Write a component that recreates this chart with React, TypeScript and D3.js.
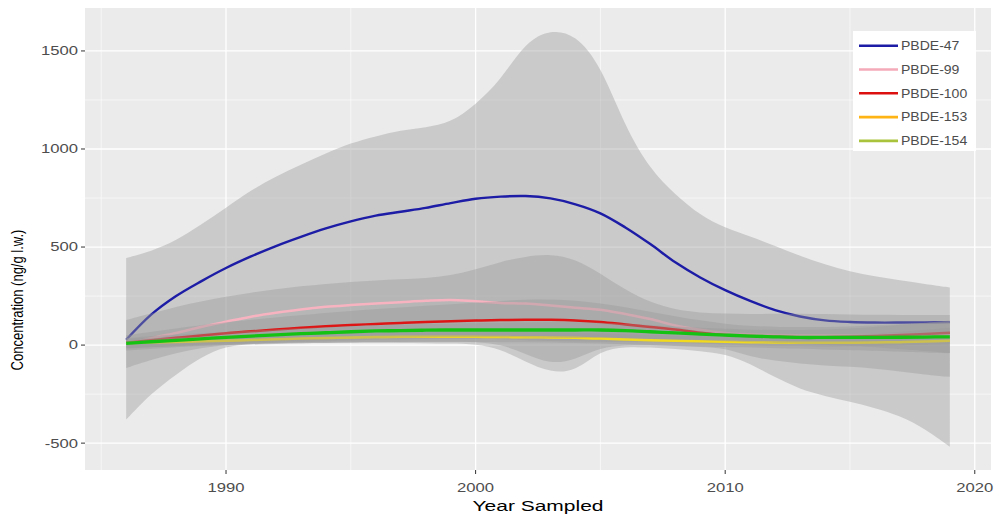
import React from 'react';
import * as d3 from 'd3';

// ---------- data ----------
const years = [1986, 1987, 1988, 1989, 1990, 1991, 1992, 1993, 1994, 1995, 1996, 1997, 1998, 1999, 2000, 2001, 2002,
  2003, 2004, 2005, 2006, 2007, 2008, 2009, 2010, 2011, 2012, 2013, 2014, 2015, 2016, 2017, 2018, 2019];

const pbde47 = [27, 155, 250, 325, 393, 452, 505, 552, 595, 631, 660, 680, 700, 724, 746, 757, 760,
  748, 718, 672, 600, 515, 422, 345, 280, 225, 178, 146, 126, 118, 115, 115, 116, 117];
const pbde47Upper = [444, 478, 532, 615, 699, 790, 860, 920, 978, 1031, 1065, 1095, 1110, 1133, 1226, 1350, 1545,
  1610, 1585, 1430, 1110, 895, 767, 662, 597, 555, 505, 455, 410, 375, 350, 330, 312, 294];
const pbde47Lower = [-380, -246, -150, -60, -5, 5, 9, 10, 11, 12, 12, 11, 10, 8, 5, -20, -85,
  -140, -135, -26, -8, -12, -20, -30, -45, -95, -165, -225, -260, -289, -320, -360, -425, -519];

const pbde99 = [5, 35, 62, 92, 119, 145, 165, 182, 195, 204, 212, 219, 226, 230, 223, 215, 212,
  202, 190, 180, 158, 133, 100, 78, 62, 55, 52, 50, 50, 50, 52, 54, 56, 58];
const pbde99Upper = [128, 160, 195, 222, 247, 268, 285, 300, 312, 323, 330, 336, 340, 355, 385, 425, 452,
  465, 440, 366, 281, 218, 180, 165, 160, 158, 160, 160, 158, 156, 155, 154, 153, 153];
const pbde99Lower = [-117, -75, -40, -15, 0, 8, 12, 13, 14, 15, 16, 16, 17, 17, 17, 5, -45,
  -98, -75, -12, 0, 0, -5, -10, -15, -60, -80, -95, -105, -110, -120, -135, -150, -162];

const pbde100 = [12, 25, 37, 49, 60, 70, 79, 88, 96, 102, 108, 113, 118, 122, 125, 128, 129,
  129, 126, 118, 105, 92, 79, 63, 52, 46, 42, 40, 40, 42, 46, 51, 57, 63];
const pbde153 = [9, 13, 16, 19, 22, 26, 30, 33, 36, 39, 41, 42, 42, 42, 42, 41, 40,
  39, 37, 33, 29, 25, 22, 19, 17, 15, 13, 12, 12, 12, 13, 15, 18, 22];
const pbde154 = [9, 17, 24, 32, 39, 46, 52, 58, 63, 68, 72, 74, 76, 77, 77, 77, 77,
  77, 77, 77, 74, 68, 62, 56, 51, 46, 42, 39, 39, 39, 39, 40, 41, 42];

const bandYears = [1986, 1988, 1990, 1995, 2000, 2002, 2004, 2006, 2008, 2010, 2012, 2015, 2019];
const pbde100Upper = [50, 85, 118, 178, 215, 235, 232, 195, 145, 105, 90, 92, 120];
const pbde100Lower = [-28, -10, 2, 26, 36, 24, 18, 16, 14, 2, -6, -8, 5];
const pbde153Upper = [32, 38, 45, 62, 68, 66, 62, 55, 48, 42, 40, 48, 88];
const pbde153Lower = [-15, -6, 0, 16, 16, 14, 12, 4, -4, -10, -15, -25, -42];
const pbde154Upper = [36, 55, 68, 100, 112, 115, 118, 110, 95, 82, 75, 78, 125];
const pbde154Lower = [-18, -5, 10, 36, 42, 38, 36, 38, 28, 20, 10, 0, -40];

const seriesNames = ['PBDE-47', 'PBDE-99', 'PBDE-100', 'PBDE-153', 'PBDE-154'];
const lineColors = ['#1c1ca6', '#f7b3c0', '#dd1515', '#f2da1e', '#14c214'];
const legendColors = ['#1c1ca6', '#f4aab8', '#dd1010', '#ffb416', '#a9c43c'];
const lineWidths = [2.4, 2.5, 2.5, 2.5, 3.3];

const xMajorTicks = [1990, 2000, 2010, 2020];
const xMinorTicks = [1985, 1995, 2005, 2015];
const yMajorTicks = [-500, 0, 500, 1000, 1500];
const yMinorTicks = [-250, 250, 750, 1250];

const xTitle = 'Year Sampled';
const yTitle = 'Concentration (ng/g l.w.)';

// ---------- layout ----------
const W = 997;
const H = 516;
const panel = { left: 85, right: 991, top: 8, bottom: 470 };
const FONT = "'Liberation Sans', Arial, Helvetica, sans-serif";

type Pt = { x: number; y: number };
const zip = (xs: number[], ys: number[]): Pt[] => xs.map((x, i) => ({ x, y: ys[i] }));
const zipBand = (xs: number[], lo: number[], hi: number[]) => xs.map((x, i) => ({ x, lo: lo[i], hi: hi[i] }));

export default function App() {
  const x = d3.scaleLinear().domain([1984.35, 2020.65]).range([panel.left, panel.right]);
  const y = d3.scaleLinear().domain([-637, 1719]).range([panel.bottom, panel.top]);

  const line = d3.line<Pt>().x(d => x(d.x)).y(d => y(d.y)).curve(d3.curveCatmullRom.alpha(0.5));
  const area = d3.area<{ x: number; lo: number; hi: number }>()
    .x(d => x(d.x)).y0(d => y(d.lo)).y1(d => y(d.hi)).curve(d3.curveBasis);

  const series = [
    { name: seriesNames[0], values: zip(years, pbde47), band: zipBand(years, pbde47Lower, pbde47Upper) },
    { name: seriesNames[1], values: zip(years, pbde99), band: zipBand(years, pbde99Lower, pbde99Upper) },
    { name: seriesNames[2], values: zip(years, pbde100), band: zipBand(bandYears, pbde100Lower, pbde100Upper) },
    { name: seriesNames[3], values: zip(years, pbde153), band: zipBand(bandYears, pbde153Lower, pbde153Upper) },
    { name: seriesNames[4], values: zip(years, pbde154), band: zipBand(bandYears, pbde154Lower, pbde154Upper) },
  ];

  const legendX = 853;
  const legendY = 31;
  const legendRow = 23.8;

  return (
    <svg width={W} height={H} style={{ position: 'absolute', left: 0, top: 0, display: 'block', background: '#ffffff' }}>
      <defs>
        <clipPath id="panelClip">
          <rect x={panel.left} y={panel.top} width={panel.right - panel.left} height={panel.bottom - panel.top} />
        </clipPath>
      </defs>
      <rect x={panel.left} y={panel.top} width={panel.right - panel.left} height={panel.bottom - panel.top} fill="#ebebeb" />
      {xMinorTicks.map(t => (
        <line key={'xm' + t} x1={x(t)} x2={x(t)} y1={panel.top} y2={panel.bottom} stroke="#ffffff" strokeWidth={0.6} />
      ))}
      {yMinorTicks.map(t => (
        <line key={'ym' + t} x1={panel.left} x2={panel.right} y1={y(t)} y2={y(t)} stroke="#ffffff" strokeWidth={0.6} />
      ))}
      {xMajorTicks.map(t => (
        <line key={'xM' + t} x1={x(t)} x2={x(t)} y1={panel.top} y2={panel.bottom} stroke="#ffffff" strokeWidth={1.3} />
      ))}
      {yMajorTicks.map(t => (
        <line key={'yM' + t} x1={panel.left} x2={panel.right} y1={y(t)} y2={y(t)} stroke="#ffffff" strokeWidth={1.3} />
      ))}

      <g clipPath="url(#panelClip)">
        {series.map((s, i) => (
          <g key={s.name}>
            <path d={area(s.band) || ''} fill="#999999" fillOpacity={0.4} />
            <path d={line(s.values) || ''} fill="none" stroke={lineColors[i]} strokeWidth={lineWidths[i]} />
          </g>
        ))}
      </g>

      {/* axes ticks */}
      {yMajorTicks.map(t => (
        <g key={'yt' + t}>
          <line x1={panel.left - 4} x2={panel.left} y1={y(t)} y2={y(t)} stroke="#333333" strokeWidth={1} />
          <g transform={`translate(${panel.left - 7},${y(t) + 4.4}) scale(1.3,1)`}>
            <text textAnchor="end" fontFamily={FONT} fontSize={12.8} fill="#4d4d4d">{t}</text>
          </g>
        </g>
      ))}
      {xMajorTicks.map(t => (
        <g key={'xt' + t}>
          <line x1={x(t)} x2={x(t)} y1={panel.bottom} y2={panel.bottom + 4} stroke="#333333" strokeWidth={1} />
          <g transform={`translate(${x(t)},${492}) scale(1.3,1)`}>
            <text textAnchor="middle" fontFamily={FONT} fontSize={12.8} fill="#4d4d4d">{t}</text>
          </g>
        </g>
      ))}

      {/* axis titles */}
      <g transform={`translate(${538},${511}) scale(1.4,1)`}>
        <text textAnchor="middle" fontFamily={FONT} fontSize={15} fill="#000000">{xTitle}</text>
      </g>
      <g transform={`translate(${23},${300}) scale(1.3,1) rotate(-90)`}>
        <text textAnchor="middle" fontFamily={FONT} fontSize={13} fill="#000000">{yTitle}</text>
      </g>

      {/* legend */}
      <rect x={legendX} y={legendY} width={123} height={120} fill="#ffffff" />
      {seriesNames.map((n, i) => (
        <g key={'lg' + n}>
          <line x1={legendX + 6} x2={legendX + 45} y1={legendY + 14.7 + i * legendRow} y2={legendY + 14.7 + i * legendRow}
            stroke={legendColors[i]} strokeWidth={2.6} />
          <g transform={`translate(${legendX + 48},${legendY + 19 + i * legendRow}) scale(1.15,1)`}>
            <text fontFamily={FONT} fontSize={12.2} fill="#4d4d4d">{n}</text>
          </g>
        </g>
      ))}
    </svg>
  );
}
